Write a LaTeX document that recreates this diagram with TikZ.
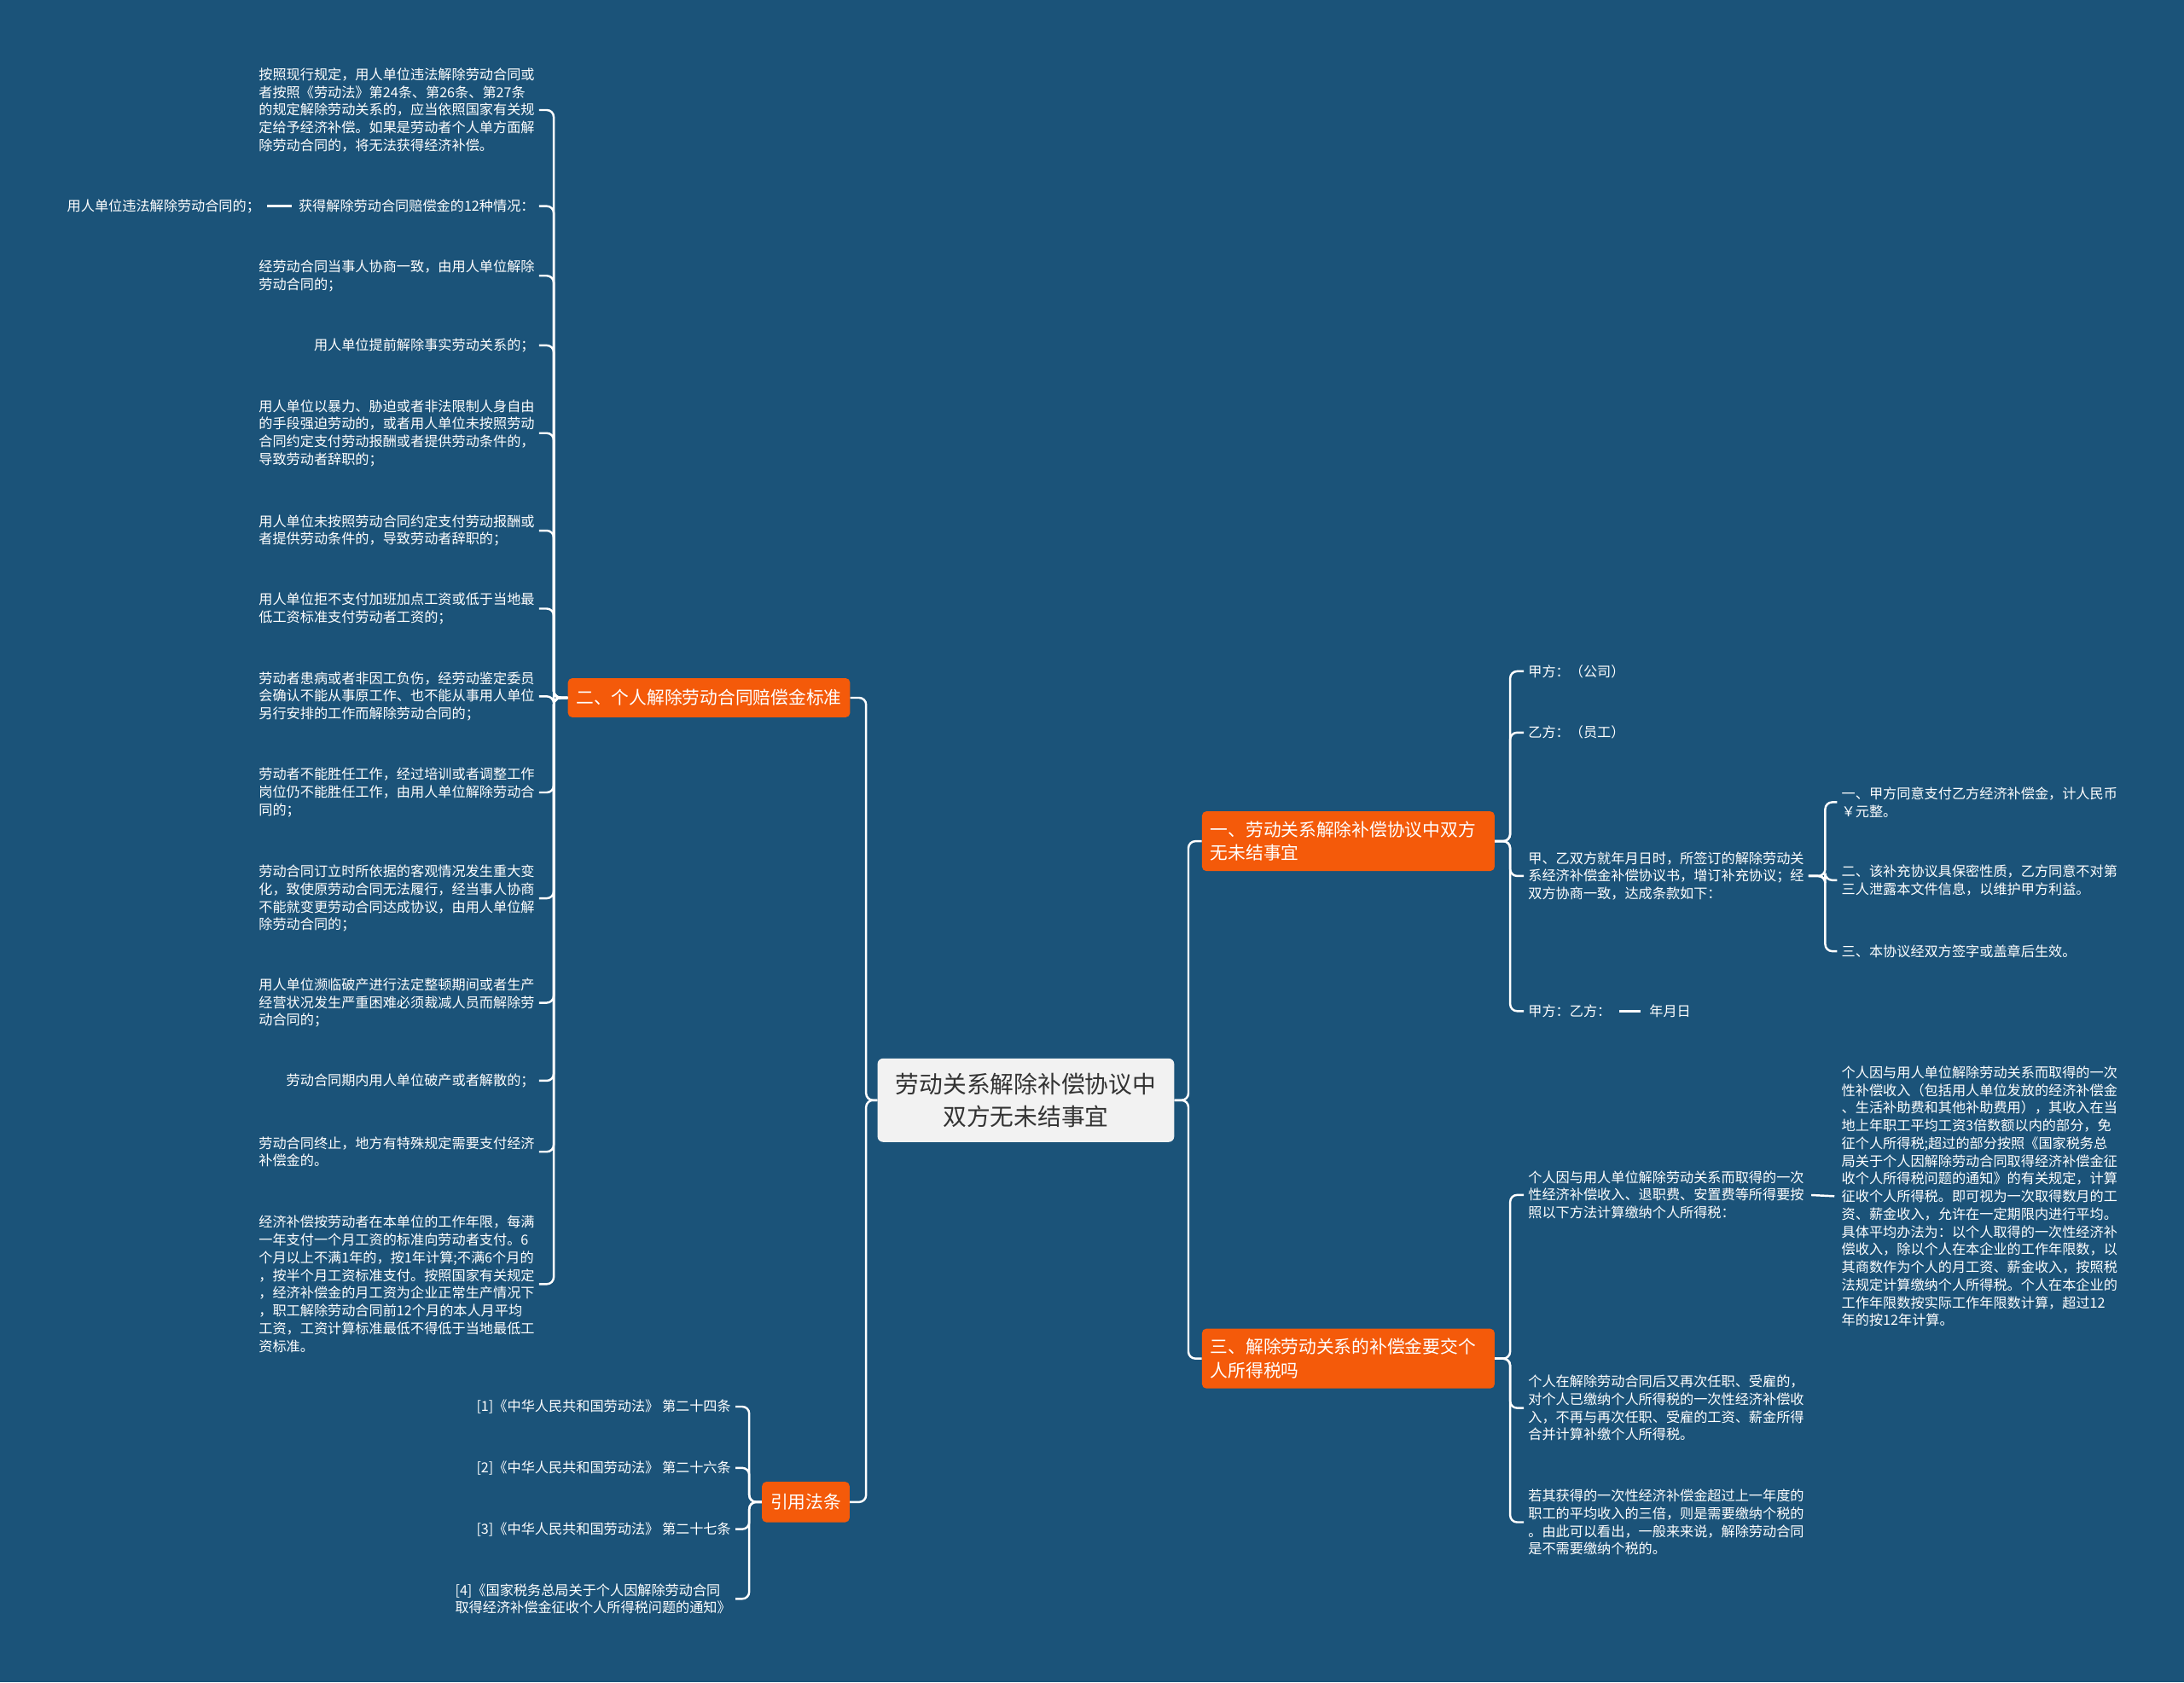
\documentclass[tikz,border=0pt]{standalone}
\usepackage{fontspec}
\setmainfont{Noto Sans CJK SC}
\definecolor{bg}{HTML}{1B5379}
\definecolor{org}{HTML}{F45A0A}
\definecolor{cen}{HTML}{F2F2F2}
\definecolor{cent}{HTML}{333333}
\tikzset{
  conn/.style={draw=white, line width=1.5pt, rounded corners=5pt},
  leaf/.style={text=white, align=left, inner xsep=3pt, inner ysep=1pt, font=\fontsize{9.9}{12.7}\selectfont},
  branch/.style={fill=org, text=white, rounded corners=3pt, align=left, inner xsep=6pt, inner ysep=7pt, font=\fontsize{12.7}{17}\selectfont},
  centre/.style={fill=cen, text=cent, rounded corners=4pt, align=center, minimum width=213pt, minimum height=60pt, font=\fontsize{17}{23}\selectfont},
}
\begin{document}
\begin{tikzpicture}[x=1pt, y=-1pt]
\fill[bg] (0,0) rectangle (1568,1208);
\useasboundingbox (0,0) rectangle (1568,1208);

% centre and branches
\node[centre] (c) at (736.5,790) {劳动关系解除补偿协议中\\双方无未结事宜};
\node[branch, minimum height=28pt, inner ysep=2pt] (b2) at (509,501) {二、个人解除劳动合同赔偿金标准};
\node[branch, minimum height=29pt, inner ysep=2pt] (b4) at (578.5,1078.5) {引用法条};
\node[branch, text width=198pt] (b1) at (968,604) {一、劳动关系解除补偿协议中双方\\无未结事宜};
\node[branch, text width=198pt] (b3) at (968,975.5) {三、解除劳动关系的补偿金要交个\\人所得税吗};

\draw[conn] (c.west) -- ++(-8,0) |- (b2.east);
\draw[conn] (c.west) -- ++(-8,0) |- (b4.east);
\draw[conn] (c.east) -- ++(10,0) |- (b1.west);
\draw[conn] (c.east) -- ++(10,0) |- (b3.west);

% left leaves of b2
\node[leaf, anchor=east] (L1) at (387,79) {按照现行规定，用人单位违法解除劳动合同或\\者按照《劳动法》第24条、第26条、第27条\\的规定解除劳动关系的，应当依照国家有关规\\定给予经济补偿。如果是劳动者个人单方面解\\除劳动合同的，将无法获得经济补偿。};
\node[leaf, anchor=east] (L2) at (387,148) {获得解除劳动合同赔偿金的12种情况：};
\node[leaf, anchor=east] (L2c) at (190,148) {用人单位违法解除劳动合同的；};
\node[leaf, anchor=east] (L3) at (387,198) {经劳动合同当事人协商一致，由用人单位解除\\劳动合同的；};
\node[leaf, anchor=east] (L4) at (387,248) {用人单位提前解除事实劳动关系的；};
\node[leaf, anchor=east] (L5) at (387,311) {用人单位以暴力、胁迫或者非法限制人身自由\\的手段强迫劳动的，或者用人单位未按照劳动\\合同约定支付劳动报酬或者提供劳动条件的，\\导致劳动者辞职的；};
\node[leaf, anchor=east] (L6) at (387,381) {用人单位未按照劳动合同约定支付劳动报酬或\\者提供劳动条件的，导致劳动者辞职的；};
\node[leaf, anchor=east] (L7) at (387,437) {用人单位拒不支付加班加点工资或低于当地最\\低工资标准支付劳动者工资的；};
\node[leaf, anchor=east] (L8) at (387,500) {劳动者患病或者非因工负伤，经劳动鉴定委员\\会确认不能从事原工作、也不能从事用人单位\\另行安排的工作而解除劳动合同的；};
\node[leaf, anchor=east] (L9) at (387,569) {劳动者不能胜任工作，经过培训或者调整工作\\岗位仍不能胜任工作，由用人单位解除劳动合\\同的；};
\node[leaf, anchor=east] (L10) at (387,645) {劳动合同订立时所依据的客观情况发生重大变\\化，致使原劳动合同无法履行，经当事人协商\\不能就变更劳动合同达成协议，由用人单位解\\除劳动合同的；};
\node[leaf, anchor=east] (L11) at (387,720) {用人单位濒临破产进行法定整顿期间或者生产\\经营状况发生严重困难必须裁减人员而解除劳\\动合同的；};
\node[leaf, anchor=east] (L12) at (387,776) {劳动合同期内用人单位破产或者解散的；};
\node[leaf, anchor=east] (L13) at (387,827) {劳动合同终止，地方有特殊规定需要支付经济\\补偿金的。};
\node[leaf, anchor=east] (L14) at (387,922) {经济补偿按劳动者在本单位的工作年限，每满\\一年支付一个月工资的标准向劳动者支付。6\\个月以上不满1年的，按1年计算;不满6个月的\\，按半个月工资标准支付。按照国家有关规定\\，经济补偿金的月工资为企业正常生产情况下\\，职工解除劳动合同前12个月的本人月平均\\工资，工资计算标准最低不得低于当地最低工\\资标准。};

\foreach \n in {L1,L2,L3,L4,L5,L6,L7,L8,L9,L10,L11,L12,L13,L14}
  \draw[conn] (b2.west) -- ++(-10,0) |- (\n.east);
\draw[white, line width=1.5pt, shorten <=2pt, shorten >=2pt] (L2.west) -- (L2c.east);

% references
\node[leaf, anchor=east] (R1) at (528,1010) {[1]《中华人民共和国劳动法》 第二十四条};
\node[leaf, anchor=east] (R2) at (528,1054) {[2]《中华人民共和国劳动法》 第二十六条};
\node[leaf, anchor=east] (R3) at (528,1098) {[3]《中华人民共和国劳动法》 第二十七条};
\node[leaf, anchor=east] (R4) at (528,1148) {[4]《国家税务总局关于个人因解除劳动合同\\取得经济补偿金征收个人所得税问题的通知》};
\foreach \n in {R1,R2,R3,R4}
  \draw[conn] (b4.west) -- ++(-9,0) |- (\n.east);

% right leaves of b1
\node[leaf, anchor=west] (A1) at (1094,482) {甲方：（公司）};
\node[leaf, anchor=west] (A2) at (1094,526) {乙方：（员工）};
\node[leaf, anchor=west] (A3) at (1094,629) {甲、乙双方就年月日时，所签订的解除劳动关\\系经济补偿金补偿协议书，增订补充协议；经\\双方协商一致，达成条款如下：};
\node[leaf, anchor=west] (A4) at (1094,726) {甲方：乙方：};
\node[leaf, anchor=west] (A4c) at (1181,726) {年月日};
\foreach \n in {A1,A2,A3,A4}
  \draw[conn] (b1.east) -- ++(11,0) |- (\n.west);
\draw[white, line width=1.5pt, shorten <=3pt, shorten >=3pt] (A4.east) -- (A4c.west);

\node[leaf, anchor=west] (G1) at (1319,576) {一、甲方同意支付乙方经济补偿金，计人民币\\￥元整。};
\node[leaf, anchor=west] (G2) at (1319,632) {二、该补充协议具保密性质，乙方同意不对第\\三人泄露本文件信息，以维护甲方利益。};
\node[leaf, anchor=west] (G3) at (1319,683) {三、本协议经双方签字或盖章后生效。};
\foreach \n in {G1,G2,G3}
  \draw[conn] (A3.east) -- ++(12,0) |- (\n.west);

% right leaves of b3
\node[leaf, anchor=west] (T1) at (1094,858) {个人因与用人单位解除劳动关系而取得的一次\\性经济补偿收入、退职费、安置费等所得要按\\照以下方法计算缴纳个人所得税：};
\node[leaf, anchor=west] (T1c) at (1319,859) {个人因与用人单位解除劳动关系而取得的一次\\性补偿收入（包括用人单位发放的经济补偿金\\、生活补助费和其他补助费用），其收入在当\\地上年职工平均工资3倍数额以内的部分，免\\征个人所得税;超过的部分按照《国家税务总\\局关于个人因解除劳动合同取得经济补偿金征\\收个人所得税问题的通知》的有关规定，计算\\征收个人所得税。即可视为一次取得数月的工\\资、薪金收入，允许在一定期限内进行平均。\\具体平均办法为：以个人取得的一次性经济补\\偿收入，除以个人在本企业的工作年限数，以\\其商数作为个人的月工资、薪金收入，按照税\\法规定计算缴纳个人所得税。个人在本企业的\\工作年限数按实际工作年限数计算，超过12\\年的按12年计算。};
\node[leaf, anchor=west] (T2) at (1094,1011) {个人在解除劳动合同后又再次任职、受雇的，\\对个人已缴纳个人所得税的一次性经济补偿收\\入，不再与再次任职、受雇的工资、薪金所得\\合并计算补缴个人所得税。};
\node[leaf, anchor=west] (T3) at (1094,1093) {若其获得的一次性经济补偿金超过上一年度的\\职工的平均收入的三倍，则是需要缴纳个税的\\。由此可以看出，一般来来说，解除劳动合同\\是不需要缴纳个税的。};
\foreach \n in {T1,T2,T3}
  \draw[conn] (b3.east) -- ++(11,0) |- (\n.west);
\draw[white, line width=1.5pt, shorten <=2pt, shorten >=2pt] (T1.east) -- (T1c.west);
\end{tikzpicture}
\end{document}
